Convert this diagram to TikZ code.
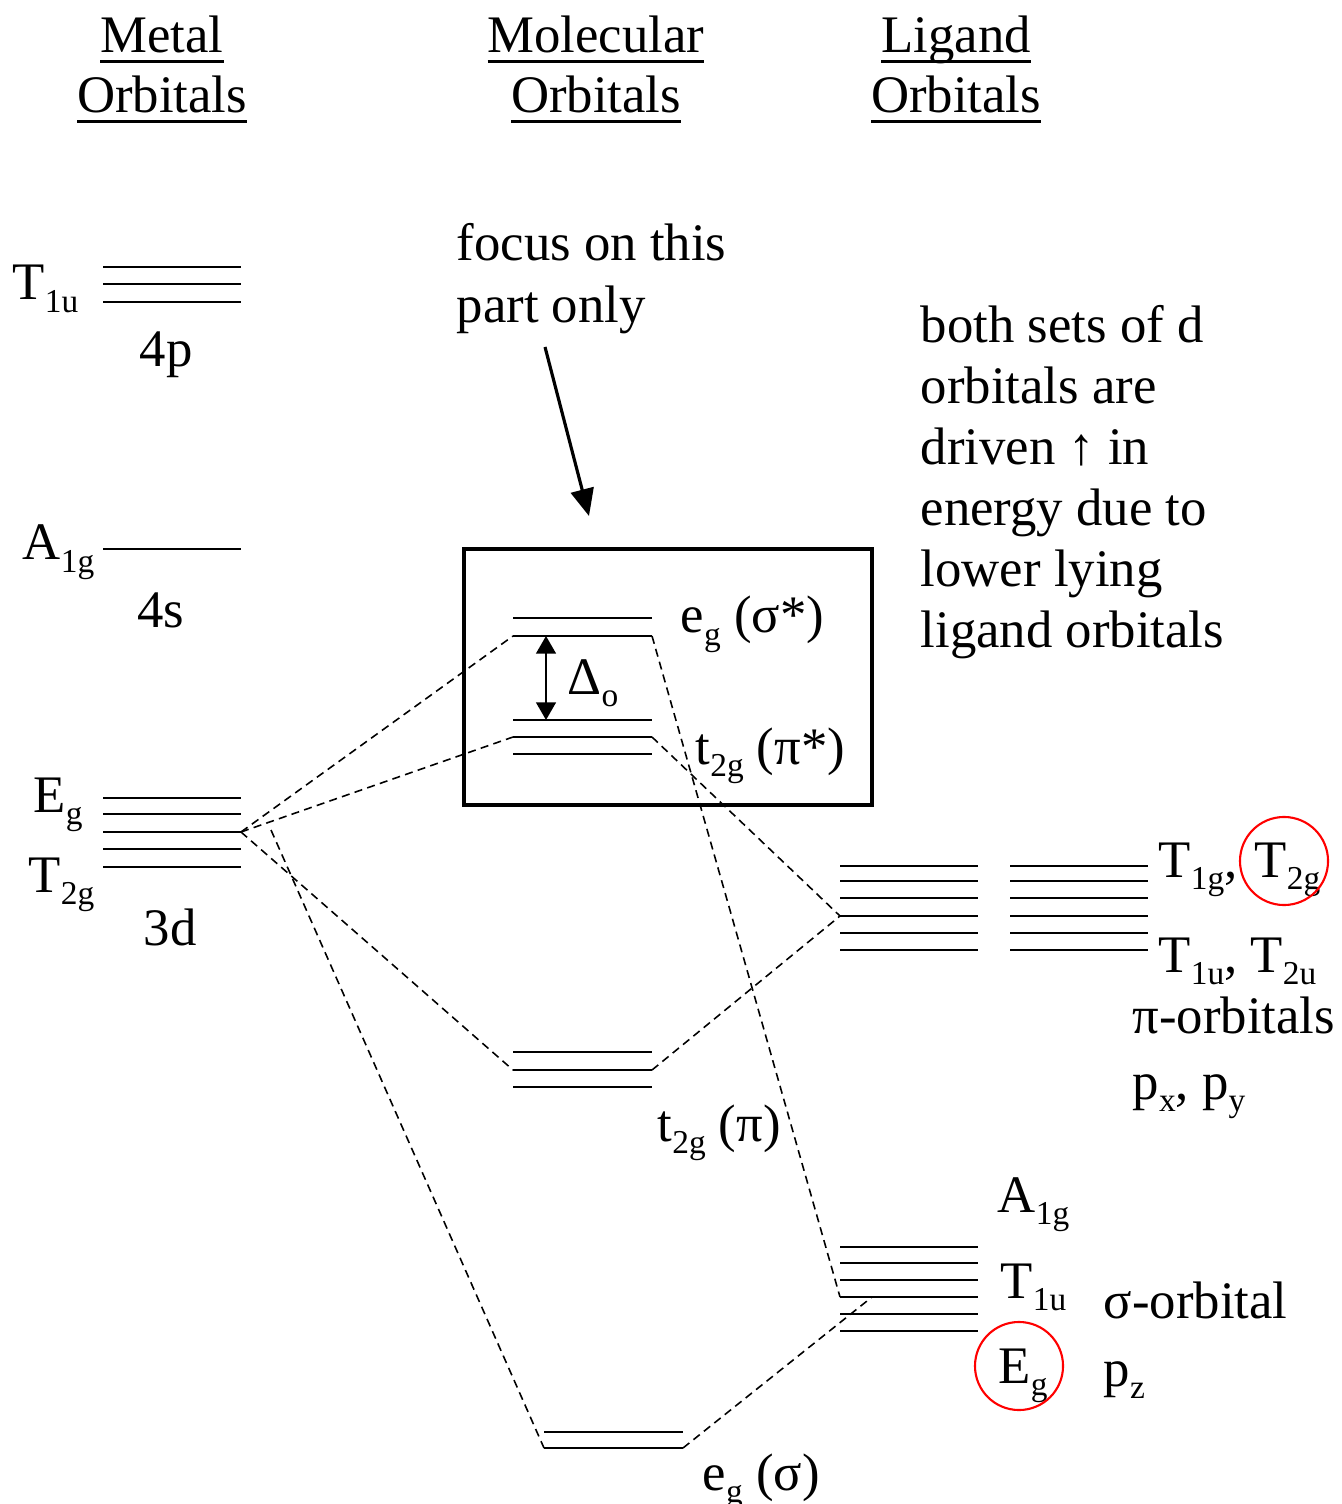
\documentclass[tikz,border=0pt]{standalone}
\usepackage{fontspec}
\setmainfont{Liberation Serif}
\usepackage{tikz}
\usetikzlibrary{arrows.meta,positioning}

\newcommand{\orbsub}[1]{\raisebox{-3.6pt}{\fontsize{9.5}{9.5}\selectfont #1}}
\newcommand{\uln}[1]{\setbox0=\hbox{#1}\rlap{\rule[-2.8pt]{\wd0}{0.85pt}}\box0}

\begin{document}
\begin{tikzpicture}[
  x=0.01cm, y=-0.01cm,
  font=\fontsize{15}{17.4}\selectfont,
  level/.style={line width=0.6pt},
  corr/.style={dash pattern=on 2.3pt off 1.5pt, line width=0.45pt},
  lbl/.style={inner sep=0pt, anchor=base west},
  hdr/.style={inner sep=0pt, anchor=base, align=center},
  note/.style={inner sep=0pt, anchor=base west, align=left},
  ring/.style={draw=red, line width=0.6pt, circle, minimum size=0.88cm, inner sep=0pt},
  >={Triangle[length=5pt,width=5.6pt]}]
\useasboundingbox (0,0) rectangle (1341,1504);

% column headings (anchor = baseline of last line)
\node[hdr] (metal) at (162,113) {\uln{Metal}\\[-0.3pt]\uln{Orbitals}};
\node[hdr] (molec) at (596,113) {\uln{Molecular}\\[-0.3pt]\uln{Orbitals}};
\node[hdr] (ligand) at (956,113) {\uln{Ligand}\\[-0.3pt]\uln{Orbitals}};

% metal levels
\foreach \y in {267,284,302} \draw[level] (103,\y) -- (241,\y);
\draw[level] (103,549) -- (241,549);
\foreach \y in {798,814,832,849,867} \draw[level] (103,\y) -- (241,\y);
\node[lbl] (t1um) at (12,300) {T\orbsub{1u}};
\node[lbl,anchor=base] (p4) at (166,367) {4p};
\node[lbl] (a1gm) at (22,560) {A\orbsub{1g}};
\node[lbl,anchor=base] (s4) at (161,627) {4s};
\node[lbl] (egm) at (33,812) {E\orbsub{g}};
\node[lbl] (t2gm) at (28,892) {T\orbsub{2g}};
\node[lbl,anchor=base] (d3) at (170,945) {3d};

% molecular orbitals
\draw[line width=1.4pt] (464,549) rectangle (872,805);
\foreach \y in {618,636} \draw[level] (513,\y) -- (652,\y);
\foreach \y in {720,737,754} \draw[level] (513,\y) -- (652,\y);
\foreach \y in {1052,1070,1087} \draw[level] (513,\y) -- (652,\y);
\foreach \y in {1432,1448} \draw[level] (544,\y) -- (683,\y);
\node[lbl] (egs) at (680,633) {e\orbsub{g} (σ*)};
\node[lbl] (tps) at (695,764) {t\orbsub{2g} (π*)};
\node[lbl] (delta) at (567,694) {Δ\orbsub{o}};
\node[lbl] (tp) at (657,1141) {t\orbsub{2g} (π)};
\node[lbl] (egsig) at (702,1490) {e\orbsub{g} (σ)};
\coordinate (dtop) at (546,636);
\coordinate (dbot) at (546,720);
\draw[<->, line width=0.6pt] (dtop) -- (dbot);

% ligand orbitals
\foreach \y in {866,881,898,916,933,950} {
  \draw[level] (840,\y) -- (978,\y);
  \draw[level] (1010,\y) -- (1148,\y);
}
\foreach \y in {1247,1263,1280,1297,1314,1331} \draw[level] (840,\y) -- (978,\y);
\node[lbl] (t1g) at (1158,877) {T\orbsub{1g},};
\node[lbl] (t2g) at (1254,877) {T\orbsub{2g}};
\node[ring] (t2gring) at (1284,861) {};
\node[lbl] (t1u) at (1158,972) {T\orbsub{1u}, T\orbsub{2u}};
\node[lbl] (pio) at (1132,1033) {π-orbitals};
\node[lbl] (pxy) at (1132,1099) {p\orbsub{x}, p\orbsub{y}};
\node[lbl] (a1gl) at (997,1212) {A\orbsub{1g}};
\node[lbl] (t1ul) at (1000,1298) {T\orbsub{1u}};
\node[lbl] (egl) at (998,1383) {E\orbsub{g}};
\node[ring] (egring) at (1019,1366) {};
\node[lbl] (sigo) at (1103,1318) {σ-orbital};
\node[lbl] (pz) at (1103,1386) {p\orbsub{z}};

% correlation lines
\coordinate (m3d) at (241,832);
\coordinate (m3dx) at (271,830);
\coordinate (egsL) at (513,636);
\coordinate (egsR) at (652,636);
\coordinate (tpsL) at (513,737);
\coordinate (tpsR) at (652,737);
\coordinate (tpL) at (513,1070);
\coordinate (tpR) at (652,1070);
\coordinate (egL) at (544,1448);
\coordinate (egR) at (683,1448);
\coordinate (piL) at (840,916);
\coordinate (sgL) at (840,1297);
\coordinate (sgM) at (872,1297);
\draw[corr] (m3d) -- (egsL);
\draw[corr] (m3d) -- (tpsL);
\draw[corr] (m3d) -- (tpL);
\draw[corr] (m3dx) -- (egL);
\draw[corr] (egsR) -- (sgL);
\draw[corr] (tpsR) -- (piL);
\draw[corr] (tpR) -- (piL);
\draw[corr] (egR) -- (sgM);

% notes (anchor = baseline of last line)
\node[note] (focus) at (456,323) {focus on this\\[0.5pt]part only};
\node[note] (both) at (920,648) {both sets of d\\orbitals are\\driven ↑ in\\energy due to\\lower lying\\ligand orbitals};
\coordinate (ftail) at (545,347);
\coordinate (fhead) at (589,516);
\draw[-{Triangle[length=7.7pt,width=6.6pt]}, line width=0.9pt] (ftail) -- (fhead);
\end{tikzpicture}
\end{document}
